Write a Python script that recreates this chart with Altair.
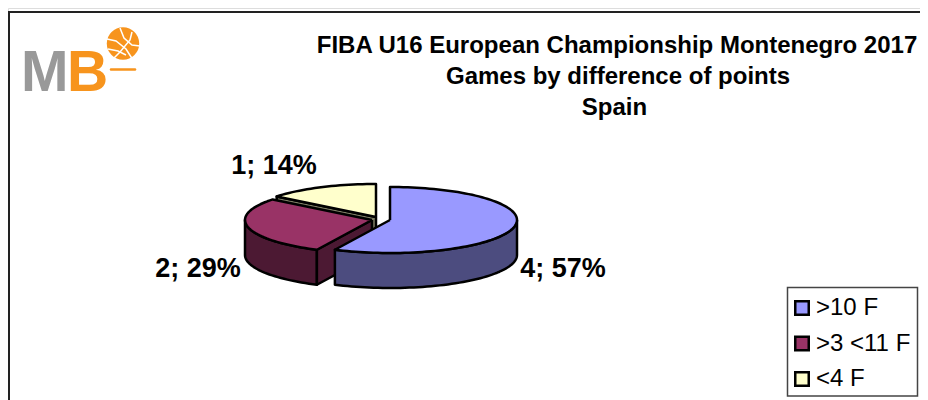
import math
import altair as alt
import pandas as pd

CATEGORIES = [">10 F", ">3 <11 F", "<4 F"]
GAMES = [4, 2, 1]
PERCENTS = [57, 29, 14]
TOP_COLORS = ["#9999FF", "#993366", "#FFFFCC"]
WALL_COLORS = ["#4C4C7F", "#4C1933", "#7F7F66"]
TITLE_LINES = ["FIBA U16 European Championship Montenegro 2017",
               "Games by difference of points", "Spain"]

W, H = 912, 392
OX, OY = 8, 8                     # page offset of the chart
RX, RY, DEPTH = 127, 33, 35
CENTRES = [(390, 220), (372, 220), (376, 217)]
LABEL_POS = [(563, 269), (198, 269), (274, 166)]


def rim(c, deg, drop=0):
    a = math.radians(deg)
    return (c[0] + RX * math.sin(a) - OX, c[1] - RY * math.cos(a) + drop - OY)


def arc_angles(a0, a1):
    n = max(2, int(abs(a1 - a0) / 2))
    return [a0 + (a1 - a0) * k / n for k in range(n + 1)]


total = sum(GAMES)
spans, acc = [], 0.0
for g in GAMES:
    spans.append((acc, acc + 360 * g / total))
    acc += 360 * g / total

rows_top, rows_wall = [], []


def add(rows, cat, poly, pid):
    poly = poly + [poly[0]]
    for i, (px, py) in enumerate(poly):
        rows.append({"cat": cat, "poly": pid, "i": i, "px": px, "py": py})


for cat, c, (a0, a1) in zip(CATEGORIES, CENTRES, spans):
    centre = (c[0] - OX, c[1] - OY)
    add(rows_top, cat, [centre] + [rim(c, a) for a in arc_angles(a0, a1)], cat + " top")
    # outer wall: the part of the rim facing the viewer (90..270 degrees)
    f0, f1 = max(a0, 90), min(a1, 270)
    if f1 > f0:
        angs = arc_angles(f0, f1)
        add(rows_wall, cat, [rim(c, a) for a in angs] + [rim(c, a, DEPTH) for a in reversed(angs)], cat + " outer")
    # cut wall facing the viewer, along the slice's starting radius
    if 180 < a0 < 360:
        add(rows_wall, cat,
            [centre, rim(c, a0), rim(c, a0, DEPTH), (centre[0], centre[1] + DEPTH)], cat + " cut")

top_df = pd.DataFrame(rows_top)
wall_df = pd.DataFrame(rows_wall)

xs = alt.Scale(domain=[0, W], range=[0, W], nice=False, zero=False)
ys = alt.Scale(domain=[0, H], range=[0, H], nice=False, zero=False)
X = alt.X("px:Q", scale=xs, axis=None)
Y = alt.Y("py:Q", scale=ys, axis=None)

legend = alt.Legend(
    title=None, orient="none", legendX=782, legendY=288, padding=0,
    symbolType="square", symbolSize=182, symbolStrokeColor="black", symbolStrokeWidth=2.5,
    symbolOpacity=1, labelFont="Liberation Sans", labelFontSize=24, labelColor="black",
    labelOffset=2, rowPadding=11.5, values=CATEGORIES,
)
fill_scale = alt.Scale(domain=CATEGORIES, range=TOP_COLORS)

layers = []

frame_df = pd.DataFrame({"x": [1], "x2": [W + 20], "y": [4], "y2": [H + 20]})
layers.append(alt.Chart(frame_df).mark_rect(fill="white", stroke="#222222", strokeWidth=2).encode(
    x=alt.X("x:Q", scale=xs, axis=None), x2="x2:Q", y=alt.Y("y:Q", scale=ys, axis=None), y2="y2:Q"))

box_df = pd.DataFrame({"x": [779.5], "x2": [909.5], "y": [279.5], "y2": [388]})
layers.append(alt.Chart(box_df).mark_rect(fill="white", stroke="#444444", strokeWidth=1.5).encode(
    x=alt.X("x:Q", scale=xs, axis=None), x2="x2:Q", y=alt.Y("y:Q", scale=ys, axis=None), y2="y2:Q"))

for idx in [2, 1, 0]:
    cat = CATEGORIES[idx]
    walls = wall_df[wall_df["cat"] == cat]
    for pid in walls["poly"].unique():
        layers.append(alt.Chart(walls[walls["poly"] == pid]).mark_line(
            fill=WALL_COLORS[idx], stroke="black", strokeWidth=2.5, strokeJoin="round"
        ).encode(x=X, y=Y, order="i:Q"))
    layers.append(alt.Chart(top_df[top_df["cat"] == cat]).mark_line(
        stroke="black", strokeWidth=2.5, strokeJoin="round"
    ).encode(x=X, y=Y, order="i:Q",
             fill=alt.Fill("cat:N", scale=fill_scale, legend=legend)))

# data labels
lab_df = pd.DataFrame({
    "t": [f"{g}; {p}%" for g, p in zip(GAMES, PERCENTS)],
    "px": [p[0] - OX for p in LABEL_POS],
    "py": [p[1] - OY for p in LABEL_POS],
})
layers.append(alt.Chart(lab_df).mark_text(
    font="Liberation Sans", fontWeight="bold", fontSize=27, color="black", baseline="middle"
).encode(x=X, y=Y, text="t:N"))

# title
title_df = pd.DataFrame({"t": TITLE_LINES, "px": [609, 610, 606.5], "py": [38, 69, 100]})
layers.append(alt.Chart(title_df).mark_text(
    font="Liberation Sans", fontWeight="bold", fontSize=24, color="black", baseline="middle"
).encode(x=X, y=Y, text="t:N"))

# logo
logo_df = pd.DataFrame({"t": ["M", "B"], "px": [13, 59], "py": [83, 83], "c": ["#999999", "#F7941D"]})
layers.append(alt.Chart(logo_df).mark_text(
    font="Liberation Sans", fontWeight="bold", fontSize=57, align="left", baseline="alphabetic"
).encode(x=X, y=Y, text="t:N", color=alt.Color("c:N", scale=None)))
ball_df = pd.DataFrame({"px": [115], "py": [35.5]})
layers.append(alt.Chart(ball_df).mark_point(filled=True, size=1050, color="#F7941D", opacity=1).encode(x=X, y=Y))
seams = {
    "a": [(99, 31), (108, 33), (118, 41), (125, 52)],
    "b": [(100, 41), (110, 43), (118, 47)],
    "c": [(104, 52), (112, 44), (122, 32), (124, 24)],
    "d": [(112, 20), (116, 30), (124, 37), (132, 38)],
}
seam_df = pd.DataFrame([{"s": k, "i": i, "px": p[0], "py": p[1]} for k, v in seams.items() for i, p in enumerate(v)])
layers.append(alt.Chart(seam_df).mark_line(color="white", strokeWidth=1.5).encode(
    x=X, y=Y, detail="s:N", order="i:Q"))
shadow_df = pd.DataFrame({"px": [103, 127], "py": [61.5, 61.5]})
layers.append(alt.Chart(shadow_df).mark_line(color="#F7941D", strokeWidth=2.5, strokeCap="round").encode(x=X, y=Y))

chart = alt.layer(*layers).properties(
    width=W, height=H, padding=0, autosize=alt.AutoSizeParams(type="none"),
).configure_view(stroke=None).configure(background="white")

chart.save("out.html", embed_options={"renderer": "svg", "actions": False})
